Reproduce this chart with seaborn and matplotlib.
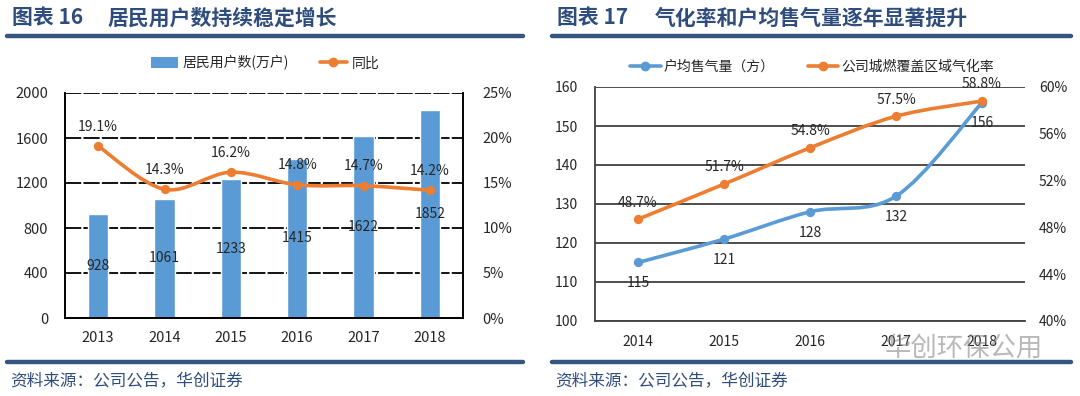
import numpy as np
import pandas as pd
import matplotlib
matplotlib.use("Agg")
import matplotlib.pyplot as plt
import seaborn as sns
from matplotlib.path import Path
from matplotlib.patches import PathPatch, Patch
from matplotlib.lines import Line2D
from matplotlib.ticker import FuncFormatter, FixedLocator

# ---------------- data ----------------
years_left = ["2013", "2014", "2015", "2016", "2017", "2018"]
households = [928, 1061, 1233, 1415, 1622, 1852]          # 居民用户数(万户)
yoy_pct = [19.1, 14.3, 16.2, 14.8, 14.7, 14.2]             # 同比 %

years_right = ["2014", "2015", "2016", "2017", "2018"]
gas_per_household = [115, 121, 128, 132, 156]              # 户均售气量（方）
gasification_pct = [48.7, 51.7, 54.8, 57.5, 58.8]          # 公司城燃覆盖区域气化率 %

title_left = ("图表 16", "居民用户数持续稳定增长")
title_right = ("图表 17", "气化率和户均售气量逐年显著提升")
source_text = "资料来源：公司公告，华创证券"
legend_left = ["居民用户数(万户)", "同比"]
legend_right = ["户均售气量（方）", "公司城燃覆盖区域气化率"]
watermark = "华创环保公用"

# ---------------- style ----------------
sns.set_style("white")
plt.rcParams["font.family"] = ["Noto Sans CJK SC", "DejaVu Sans"]
BLUE = "#5B9BD5"
ORANGE = "#ED7D31"
NAVY = "#2F4D7C"
TXT = "#262626"


def smooth_path(xs, ys):
    pts = list(zip(xs, ys))
    n = len(pts)
    verts = [pts[0]]
    codes = [Path.MOVETO]
    for i in range(n - 1):
        p0 = pts[i - 1] if i > 0 else pts[i]
        p1 = pts[i]
        p2 = pts[i + 1]
        p3 = pts[i + 2] if i + 2 < n else pts[i + 1]
        c1 = (p1[0] + (p2[0] - p0[0]) / 6, p1[1] + (p2[1] - p0[1]) / 6)
        c2 = (p2[0] - (p3[0] - p1[0]) / 6, p2[1] - (p3[1] - p1[1]) / 6)
        verts += [c1, c2, p2]
        codes += [Path.CURVE4] * 3
    return Path(verts, codes)


fig = plt.figure(figsize=(10.8, 3.96), dpi=100)
W, H = 1080, 396


def fx(px):
    return px / W


def fy(py):
    return 1 - py / H


# ---------------- left chart ----------------
axL = fig.add_axes([fx(65), fy(318), fx(463) - fx(65), fy(93) - fy(318)])
dfL = pd.DataFrame({"year": years_left, "households": households})
sns.barplot(data=dfL, x="year", y="households", ax=axL, color=BLUE,
            width=0.31, saturation=1, zorder=2)
axL.set_ylim(0, 2000)
axL.set_xlim(-0.5, len(years_left) - 0.5)
axL.set_yticks(np.arange(0, 2001, 400))
axL.yaxis.grid(True, color="black", lw=1.3, linestyle=(0, (9, 1.2)))
axL.set_axisbelow(True)
for s in ["left", "bottom", "right"]:
    axL.spines[s].set_visible(True)
    axL.spines[s].set_color("black")
    axL.spines[s].set_linewidth(1.4)
axL.spines["top"].set_visible(False)
axL.set_xlabel("")
axL.set_ylabel("")
axL.tick_params(axis="y", length=0, labelsize=10.5, labelcolor=TXT, pad=12)
axL.tick_params(axis="x", which="major", length=0, labelsize=10.5, labelcolor=TXT, pad=9)
axL.xaxis.set_minor_locator(FixedLocator(np.arange(0.5, len(years_left) - 1, 1.0)))
axL.tick_params(axis="x", which="minor", length=4, width=1.4, color="black", direction="out")
for c in axL.containers:
    axL.bar_label(c, fmt="%d", label_type="center", fontsize=10, color=TXT)

axL2 = axL.twinx()
xl = np.arange(len(years_left))
axL2.add_patch(PathPatch(smooth_path(xl, yoy_pct), facecolor="none",
                         edgecolor=ORANGE, lw=2.6, capstyle="round", zorder=3))
sns.scatterplot(x=xl, y=yoy_pct, ax=axL2, color=ORANGE, s=45, edgecolor=ORANGE,
                linewidth=0, zorder=4, legend=False)
for i, v in enumerate(yoy_pct):
    axL2.annotate(f"{v:.1f}%", (xl[i], v), xytext=(0, 14), textcoords="offset points",
                  ha="center", va="center", fontsize=10, color=TXT, zorder=5)
axL2.set_ylim(0, 25)
axL2.set_xlim(-0.5, len(years_left) - 0.5)
axL2.set_yticks(np.arange(0, 26, 5))
axL2.yaxis.set_major_formatter(FuncFormatter(lambda v, p: f"{v:.0f}%"))
axL2.tick_params(axis="y", length=0, labelsize=10.5, labelcolor=TXT, pad=14)
for s in axL2.spines.values():
    s.set_visible(False)
axL2.set_ylabel("")

legL = axL.legend(
    handles=[Patch(facecolor=BLUE, edgecolor="none"),
             Line2D([0], [0], color=ORANGE, lw=2.6, marker="o", markersize=6)],
    labels=legend_left, ncol=2, frameon=False, loc="center",
    bbox_to_anchor=(fx(265), fy(63)), bbox_transform=fig.transFigure,
    fontsize=10, handlelength=2.0, handleheight=0.8, handletextpad=0.3,
    columnspacing=2.2)
for t in legL.get_texts():
    t.set_color(TXT)

# ---------------- right chart ----------------
axR = fig.add_axes([fx(595), fy(321), fx(1025) - fx(595), fy(87) - fy(321)])
xr = np.arange(len(years_right))
axR.add_patch(PathPatch(smooth_path(xr, gas_per_household), facecolor="none",
                        edgecolor=BLUE, lw=2.6, capstyle="round", zorder=3))
sns.scatterplot(x=xr, y=gas_per_household, ax=axR, color=BLUE, s=45, edgecolor=BLUE,
                linewidth=0, zorder=4, legend=False)
for i, v in enumerate(gas_per_household):
    axR.annotate(f"{v}", (xr[i], v), xytext=(0, -15), textcoords="offset points",
                 ha="center", va="center", fontsize=10, color=TXT, zorder=5)
axR.set_ylim(100, 160)
axR.set_xlim(-0.5, len(years_right) - 0.5)
axR.set_yticks(np.arange(100, 161, 10))
axR.set_xticks(xr)
axR.set_xticklabels(years_right)
axR.yaxis.grid(True, color="#404040", lw=1.3)
axR.set_axisbelow(True)
for s in ["top", "right"]:
    axR.spines[s].set_visible(False)
for s in ["left", "bottom"]:
    axR.spines[s].set_visible(True)
    axR.spines[s].set_color("#404040")
    axR.spines[s].set_linewidth(1.3)
axR.tick_params(axis="both", length=0, labelsize=10, labelcolor=TXT)
axR.tick_params(axis="y", pad=12)
axR.tick_params(axis="x", pad=10)

axR2 = axR.twinx()
axR2.add_patch(PathPatch(smooth_path(xr, gasification_pct), facecolor="none",
                         edgecolor=ORANGE, lw=2.6, capstyle="round", zorder=3))
sns.scatterplot(x=xr, y=gasification_pct, ax=axR2, color=ORANGE, s=45, edgecolor=ORANGE,
                linewidth=0, zorder=4, legend=False)
for i, v in enumerate(gasification_pct):
    axR2.annotate(f"{v:.1f}%", (xr[i], v), xytext=(0, 12), textcoords="offset points",
                  ha="center", va="center", fontsize=10, color=TXT, zorder=5)
axR2.set_ylim(40, 60)
axR2.set_xlim(-0.5, len(years_right) - 0.5)
axR2.set_yticks(np.arange(40, 61, 4))
axR2.yaxis.set_major_formatter(FuncFormatter(lambda v, p: f"{v:.0f}%"))
axR2.tick_params(axis="y", length=0, labelsize=10, labelcolor=TXT, pad=10)
for s in axR2.spines.values():
    s.set_visible(False)
axR2.set_ylabel("")

legR = axR.legend(
    handles=[Line2D([0], [0], color=BLUE, lw=2.6, marker="o", markersize=6),
             Line2D([0], [0], color=ORANGE, lw=2.6, marker="o", markersize=6)],
    labels=legend_right, ncol=2, frameon=False, loc="center",
    bbox_to_anchor=(fx(812), fy(67)), bbox_transform=fig.transFigure,
    fontsize=10, handlelength=2.2, handletextpad=0.2, columnspacing=2.4)
for t in legR.get_texts():
    t.set_color(TXT)

# ---------------- titles, rules, sources ----------------
fig.text(fx(12), fy(18), title_left[0], fontsize=15, fontweight="bold", color=NAVY,
         ha="left", va="center")
fig.text(fx(108), fy(18), title_left[1], fontsize=15, fontweight="bold", color=NAVY,
         ha="left", va="center")
fig.text(fx(557), fy(18), title_right[0], fontsize=15, fontweight="bold", color=NAVY,
         ha="left", va="center")
fig.text(fx(655), fy(18), title_right[1], fontsize=15, fontweight="bold", color=NAVY,
         ha="left", va="center")
for x0, x1 in [(7, 523), (552, 1071)]:
    fig.add_artist(Line2D([fx(x0), fx(x1)], [fy(36), fy(36)], color="#34557F", lw=3.2,
                          transform=fig.transFigure))
    fig.add_artist(Line2D([fx(x0), fx(x1)], [fy(362), fy(362)], color="#34557F", lw=3.2,
                          transform=fig.transFigure))
fig.text(fx(10), fy(381), source_text, fontsize=12, color=NAVY, style="italic",
         ha="left", va="center")
fig.text(fx(555), fy(381), source_text, fontsize=12, color=NAVY, style="italic",
         ha="left", va="center")
fig.text(fx(885), fy(349), watermark, fontsize=19, color="#8a8a8a", alpha=0.6,
         ha="left", va="center", fontweight="light")

fig.savefig("out.png", dpi=100)
